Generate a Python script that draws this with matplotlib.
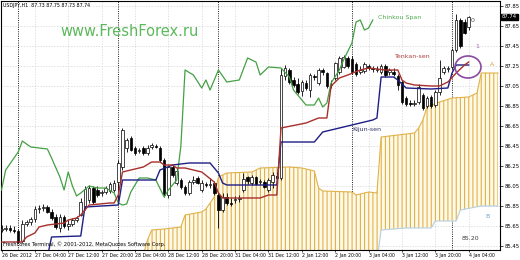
import numpy as np
import matplotlib
matplotlib.use("Agg")
import matplotlib.pyplot as plt
from matplotlib.patches import Ellipse
from matplotlib.transforms import blended_transform_factory

# USDJPY H1 candles, bar 0 = 26 Dec 2012 20:00
opens = [85.61, 85.62, 85.63, 85.61, 85.60, 85.50, 85.67, 85.69, 85.72, 85.82,
         85.83, 85.84, 85.79, 85.74, 85.63, 85.74, 85.65, 85.67, 85.71, 85.76,
         85.85, 85.91, 86.03, 86.01, 85.98, 85.99, 86.00, 86.01, 86.09, 86.24,
         86.43, 86.53, 86.43, 86.40, 86.43, 86.38, 86.44, 86.45, 86.43, 86.31,
         85.96, 86.24, 86.08, 86.11, 86.04, 85.98, 86.09, 86.13, 86.01, 86.07,
         86.06, 86.08, 85.96, 85.81, 85.94, 85.88, 85.91, 85.92, 86.01, 86.14,
         86.08, 86.14, 86.09, 86.09, 86.01, 86.09, 86.15, 86.13, 87.15, 87.21,
         87.11, 87.07, 87.00, 87.08, 87.01, 87.15, 87.08, 87.21, 87.18, 87.06,
         87.13, 87.19, 87.24, 87.33, 87.32, 87.27, 87.19, 87.20, 87.25, 87.23,
         87.21, 87.19, 87.25, 87.19, 87.19, 87.15, 87.09, 86.93, 86.88, 86.87,
         86.89, 86.96, 86.85, 86.94, 86.86, 86.99, 87.19, 87.22, 87.24, 87.41,
         87.71, 87.69, 87.64]
highs = [85.66, 85.66, 85.66, 85.65, 85.62, 85.71, 85.71, 85.74, 85.85, 85.86,
         85.87, 85.86, 85.82, 85.77, 85.77, 85.76, 85.71, 85.73, 85.75, 85.93,
         86.05, 86.06, 86.05, 86.05, 86.01, 86.05, 86.09, 86.11, 86.31, 86.63,
         86.53, 86.55, 86.45, 86.43, 86.45, 86.46, 86.48, 86.47, 86.45, 86.33,
         86.26, 86.26, 86.23, 86.13, 86.06, 86.11, 86.15, 86.15, 86.11, 86.09,
         86.13, 86.10, 85.98, 85.98, 85.98, 85.93, 85.95, 85.96, 86.18, 86.15,
         86.16, 86.15, 86.12, 86.11, 86.13, 86.19, 86.19, 87.23, 87.26, 87.23,
         87.14, 87.13, 87.11, 87.11, 87.18, 87.17, 87.23, 87.23, 87.19, 87.11,
         87.29, 87.35, 87.36, 87.35, 87.35, 87.29, 87.25, 87.29, 87.27, 87.25,
         87.25, 87.27, 87.27, 87.23, 87.23, 87.17, 87.11, 86.95, 86.91, 86.91,
         87.07, 86.98, 86.95, 86.96, 87.01, 87.31, 87.25, 87.25, 87.43, 87.77,
         87.73, 87.72, 87.75]
lows = [85.59, 85.60, 85.59, 85.58, 85.48, 85.48, 85.65, 85.66, 85.69, 85.78,
        85.80, 85.78, 85.71, 85.62, 85.59, 85.63, 85.61, 85.65, 85.69, 85.75,
        85.81, 85.88, 85.87, 85.94, 85.95, 85.97, 85.98, 85.99, 85.91, 86.21,
        86.39, 86.40, 86.36, 86.38, 86.36, 86.36, 86.42, 86.43, 86.29, 85.94,
        85.93, 86.14, 86.06, 86.02, 85.96, 85.96, 86.07, 86.07, 85.99, 86.04,
        86.03, 85.96, 85.63, 85.79, 85.86, 85.85, 85.88, 85.89, 85.99, 86.07,
        86.06, 86.06, 86.07, 86.03, 85.99, 86.03, 86.11, 86.11, 87.11, 87.07,
        87.04, 86.97, 86.95, 87.01, 86.94, 87.11, 87.06, 87.16, 87.03, 87.03,
        87.11, 87.17, 87.23, 87.23, 87.17, 87.15, 87.17, 87.18, 87.21, 87.19,
        87.19, 87.17, 87.14, 87.16, 87.15, 87.01, 86.87, 86.85, 86.85, 86.85,
        86.87, 86.81, 86.83, 86.83, 86.84, 86.96, 87.17, 87.19, 87.22, 87.39,
        87.43, 87.57, 87.61]
closes = [85.62, 85.63, 85.61, 85.60, 85.49, 85.67, 85.69, 85.72, 85.82, 85.83,
          85.84, 85.79, 85.73, 85.64, 85.74, 85.65, 85.67, 85.71, 85.73, 85.89,
          86.02, 86.03, 85.89, 85.96, 85.99, 86.03, 86.07, 86.08, 86.28, 86.61,
          86.51, 86.41, 86.38, 86.41, 86.38, 86.43, 86.46, 86.44, 86.31, 85.96,
          86.24, 86.16, 86.20, 86.04, 85.98, 86.09, 86.11, 86.08, 86.08, 86.06,
          86.07, 85.98, 85.81, 85.94, 85.88, 85.87, 85.92, 85.93, 86.12, 86.10,
          86.14, 86.07, 86.10, 86.04, 86.11, 86.16, 86.13, 87.16, 87.23, 87.09,
          87.06, 86.99, 87.09, 87.03, 87.16, 87.14, 87.21, 87.19, 87.05, 87.07,
          87.28, 87.33, 87.34, 87.25, 87.19, 87.17, 87.21, 87.27, 87.23, 87.22,
          87.22, 87.25, 87.16, 87.21, 87.17, 87.06, 86.89, 86.87, 86.87, 86.88,
          87.04, 86.83, 86.93, 86.85, 86.99, 87.13, 87.23, 87.23, 87.41, 87.71,
          87.45, 87.58, 87.74]

# Ichimoku lines: (bar, price) vertices
tenkan_bar = [0, 5, 6, 8, 9, 11, 15, 16, 18, 19, 21, 26, 27, 28, 29, 31, 34, 36,
              38, 39, 41, 42, 44, 48, 51, 52, 53, 62, 64, 66, 67, 73, 76, 78, 79,
              81, 83, 86, 88, 92, 95, 96, 97, 99, 103, 105, 107, 109, 111, 112]
tenkan_val = [85.49, 85.49, 85.54, 85.58, 85.64, 85.66, 85.68, 85.71, 85.73,
              85.76, 85.86, 85.88, 85.88, 85.96, 86.19, 86.21, 86.24, 86.29,
              86.29, 86.26, 86.26, 86.23, 86.23, 86.19, 86.09, 85.98, 85.93,
              85.93, 85.96, 85.96, 86.63, 86.68, 86.73, 86.73, 87.05, 87.13,
              87.16, 87.21, 87.23, 87.21, 87.21, 87.11, 87.08, 87.06, 87.05,
              87.05, 87.09, 87.18, 87.26, 87.29]

kijun_bar = [11, 12, 19, 20, 28, 29, 37, 38, 41, 45, 50, 52, 53, 54, 66, 67, 75,
             77, 82, 84, 89, 90, 91, 94, 95, 97, 103, 107, 108, 109, 112]
kijun_val = [85.34, 85.54, 85.55, 85.84, 85.86, 86.11, 86.11, 86.21, 86.26,
             86.28, 86.28, 86.18, 86.08, 86.06, 86.06, 86.49, 86.49, 86.59,
             86.64, 86.66, 86.71, 86.73, 87.14, 87.14, 87.11, 87.03, 87.02,
             87.03, 87.18, 87.26, 87.26]

chinkou_bar = [0, 1, 4, 5, 7, 11, 12, 14, 15, 16, 17, 18, 19, 21, 23, 25, 27, 28,
               29, 30, 31, 33, 35, 37, 39, 40, 42, 43, 44, 46, 48, 49, 50, 52,
               54, 57, 59, 61, 62, 64, 67, 69, 70, 72, 73, 75, 76, 77, 78, 79,
               81, 82, 84, 85, 86, 87, 88, 89]
chinkou_val = [86.01, 86.21, 86.39, 86.50, 86.44, 86.42, 86.33, 86.14, 86.01,
               86.19, 86.05, 85.95, 85.98, 86.05, 86.03, 86.03, 85.98, 85.88,
               85.86, 85.87, 85.99, 86.13, 86.13, 86.11, 85.94, 86.01, 86.11,
               86.45, 87.21, 87.16, 87.03, 87.11, 87.01, 87.21, 87.09, 87.11,
               87.33, 87.29, 87.16, 87.24, 87.23, 87.14, 87.01, 86.91, 86.86,
               86.86, 86.93, 86.84, 86.88, 87.08, 87.21, 87.31, 87.48, 87.69,
               87.71, 87.61, 87.63, 87.71]

span_a_bar = [33, 34, 35, 36, 39, 43, 44, 48, 49, 51, 52, 54, 60, 62, 69, 72, 75,
              76, 77, 84, 85, 88, 90, 91, 99, 100, 101, 102, 105, 108, 112, 114,
              115, 119]
span_a_val = [85.25, 85.36, 85.51, 85.61, 85.62, 85.64, 85.76, 85.79, 85.82,
              85.94, 86.14, 86.18, 86.19, 86.23, 86.24, 86.23, 86.20, 86.03,
              86.00, 85.99, 85.96, 85.99, 85.98, 86.54, 86.58, 86.63, 86.71,
              86.84, 86.89, 86.93, 86.94, 86.98, 87.18, 87.18]
span_b_bar = [33, 90, 91, 97, 103, 104, 109, 110, 115, 119]
span_b_val = [85.25, 85.30, 85.61, 85.63, 85.63, 85.70, 85.70, 85.81, 85.85, 85.85]

price_ticks = [85.45, 85.65, 85.85, 86.05, 86.25, 86.45, 86.65, 86.85, 87.05,
               87.25, 87.45, 87.65, 87.85]
time_bars = [0, 8, 16, 24, 32, 40, 48, 56, 64, 72, 80, 88, 96, 104, 112]
time_labels = ["26 Dec 2012", "27 Dec 04:00", "27 Dec 12:00", "27 Dec 20:00",
               "28 Dec 04:00", "28 Dec 12:00", "28 Dec 20:00", "31 Dec 04:00",
               "31 Dec 12:00", "2 Jan 12:00", "2 Jan 20:00", "3 Jan 04:00",
               "3 Jan 12:00", "3 Jan 20:00", "4 Jan 04:00"]
day_breaks = [4, 28, 52, 84, 108]

W, H = 520, 260
plt.rcParams["hatch.color"] = "#e0b24a"
plt.rcParams["hatch.linewidth"] = 0.8
fig = plt.figure(figsize=(W / 100, H / 100), dpi=100)
fig.patch.set_facecolor("white")
ax = fig.add_axes([1 / W, 10 / H, 499 / W, 249 / H])
ax.set_xlim(-0.12, 119.5)
ax.set_ylim(85.41, 87.90)

# grid + day separators
for p in price_ticks:
    ax.axhline(p, color="#d4d4d4", lw=0.5, ls=(0, (2, 2)), zorder=0)
for b in time_bars[1:]:
    ax.axvline(b, color="#d4d4d4", lw=0.5, ls=(0, (2, 2)), zorder=0)
for b in day_breaks:
    ax.axvline(b, color="black", lw=0.6, ls=(0, (1.2, 1.5)), zorder=1)

# cloud
cx = np.concatenate([span_a_bar, span_b_bar[::-1]])
cy = np.concatenate([span_a_val, span_b_val[::-1]])
ax.fill(cx, cy, facecolor="#fff9e8", edgecolor="#e0b24a", hatch="||||",
        linewidth=0, zorder=1)
ax.plot(span_a_bar, span_a_val, color="#e0b24a", lw=0.8, zorder=2)
ax.plot(span_b_bar, span_b_val, color="#b4d0e4", lw=0.8, zorder=2)

# candles
bars = np.arange(len(opens))
o = np.array(opens)
c = np.array(closes)
ax.vlines(bars, lows, highs, color="black", lw=0.6, zorder=4)
up = c >= o
ax.bar(bars[up], (c - o)[up], bottom=o[up], width=0.62, color="white",
       edgecolor="black", linewidth=0.5, zorder=5)
ax.bar(bars[~up], (c - o)[~up], bottom=o[~up], width=0.62, color="black",
       edgecolor="black", linewidth=0.5, zorder=5)

# ichimoku lines
ax.plot(chinkou_bar, chinkou_val, color="#44a044", lw=0.9, zorder=6)
ax.plot(kijun_bar, kijun_val, color="#1e1e86", lw=1.0, zorder=6)
ax.plot(tenkan_bar, tenkan_val, color="#a8302c", lw=1.0, zorder=6)

# axes look
for s in ax.spines.values():
    s.set_color("black")
    s.set_linewidth(0.8)
ax.yaxis.tick_right()
ax.set_yticks(price_ticks)
ax.set_yticklabels([f"{p:.2f}" for p in price_ticks], fontsize=3.8)
ax.set_xticks(time_bars)
ax.set_xticklabels(time_labels, fontsize=3.3, ha="left")
ax.tick_params(axis="y", length=2, width=0.5, pad=1.5, colors="black")
ax.tick_params(axis="x", length=1.5, width=0.5, pad=0.6, colors="black")

trans = blended_transform_factory(ax.transAxes, ax.transData)
ax.text(1.004, closes[-1], f"{closes[-1]:.2f}", transform=trans, fontsize=3.8,
        color="white", va="center", ha="left", zorder=10,
        bbox=dict(boxstyle="square,pad=0.15", fc="black", ec="black"))

# chart texts
def ftext(x, y, s, **kw):
    fig.text(x / W, 1 - y / H, s, va="center", ha="left", **kw)

ftext(3, 6, "USDJPY,H1  87.73 87.75 87.73 87.74", fontsize=3.4, color="black")
ftext(60, 31, "www.FreshForex.ru", fontsize=10.5, color="#5cb85c")
ftext(378, 18, "Chinkou Span", fontsize=4.5, color="#4caa4c")
ftext(395, 57, "Tenkan-sen", fontsize=4.5, color="#b04040")
ftext(352, 130, "Kijun-sen", fontsize=4.5, color="#303068")
ftext(471, 20, "0", fontsize=4.5, color="#505050")
ftext(475, 47, "1", fontsize=4.5, color="#9a6aa8")
ftext(490, 64, "A", fontsize=4.5, color="#d4a030")
ftext(485, 216, "B", fontsize=4.5, color="#6fa8d0")
ftext(462, 238, "85.20", fontsize=4.5, color="#404040")
ftext(3, 244, "FreshForex Terminal, \u00a9 2001-2012, MetaQuotes Software Corp.",
      fontsize=3.7, color="black")
fig.patches.append(Ellipse((468 / W, 1 - 67 / H), 26 / W, 22 / H,
                           transform=fig.transFigure, fill=False,
                           edgecolor="#8a4aa0", lw=1.2, zorder=12))

fig.savefig("out.png", dpi=100)
